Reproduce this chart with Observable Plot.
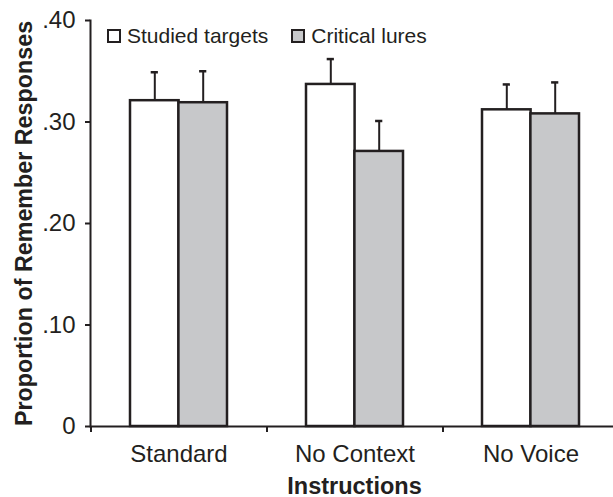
<!DOCTYPE html>
<html>
<head>
<meta charset="utf-8">
<script src="https://cdn.jsdelivr.net/npm/d3@7"></script>
<script src="https://cdn.jsdelivr.net/npm/@observablehq/plot@0.6"></script>
<style>
  body { margin: 0; background: #fff; overflow: hidden; }
  #wrap { position: relative; width: 613px; height: 497px; }
  #legend { position: absolute; left: 107px; top: 25px; display: flex; align-items: center;
            font-family: "Liberation Sans", Arial, sans-serif; font-size: 21px; line-height: 21px; color: #231f20; }
  #legend .item { display: flex; align-items: center; margin-right: 23px; }
  #legend .box { width: 14px; height: 14px; box-sizing: border-box; border: 2px solid #231f20; margin-right: 6px; }
</style>
</head>
<body>
<div id="wrap"><div id="legend"></div></div>
<script>
// ---- data ----
const categories = ["Standard", "No Context", "No Voice"];
const series = ["Studied targets", "Critical lures"];
const seriesColors = ["#ffffff", "#c7c8ca"];
const targetMeans = [0.321, 0.337, 0.312];
const targetErrors = [0.028, 0.025, 0.025];
const lureMeans = [0.319, 0.271, 0.308];
const lureErrors = [0.031, 0.030, 0.031];
const yTicks = [0, 0.1, 0.2, 0.3, 0.4];
const yTickLabels = ["0", ".10", ".20", ".30", ".40"];
const xTitle = "Instructions";
const yTitle = "Proportion of Remember Responses";

const rows = categories.flatMap((c, i) => [
  {category: c, series: series[0], mean: targetMeans[i], se: targetErrors[i]},
  {category: c, series: series[1], mean: lureMeans[i], se: lureErrors[i]}
]);
const targets = rows.filter(d => d.series === series[0]);
const lures = rows.filter(d => d.series === series[1]);

// ---- layout ----
const W = 613, H = 497, mL = 90, mR = -5, mT = 20, mB = 71;
const padInner = 0.45, padOuter = 0.225;
const step = (W - mR - mL) / categories.length;
const bw = step * (1 - padInner);
const half = bw / 2;
const capW = 7;
const ink = "#231f20";

const chart = Plot.plot({
  width: W, height: H,
  marginLeft: mL, marginRight: mR, marginTop: mT, marginBottom: mB,
  style: {fontFamily: "'Liberation Sans', Arial, sans-serif", fontSize: "24px", color: ink, background: "transparent", overflow: "visible"},
  x: {type: "band", domain: categories, paddingInner: padInner, paddingOuter: padOuter},
  y: {domain: [0, 0.4]},
  color: {domain: series, range: seriesColors},
  marks: [
    Plot.barY(targets, {x: "category", y: "mean", fill: "series", stroke: ink, strokeWidth: 2.5, insetRight: half}),
    Plot.barY(lures, {x: "category", y: "mean", fill: "series", stroke: ink, strokeWidth: 2.5, insetLeft: half}),
    Plot.ruleX(targets, {x: "category", y1: "mean", y2: d => d.mean + d.se, dx: -half / 2, stroke: ink, strokeWidth: 2}),
    Plot.ruleX(lures, {x: "category", y1: "mean", y2: d => d.mean + d.se, dx: half / 2, stroke: ink, strokeWidth: 2}),
    Plot.tickY(targets, {x: "category", y: d => d.mean + d.se, insetLeft: half / 2 - capW / 2, insetRight: bw - half / 2 - capW / 2, stroke: ink, strokeWidth: 2.5}),
    Plot.tickY(lures, {x: "category", y: d => d.mean + d.se, insetLeft: bw - half / 2 - capW / 2, insetRight: half / 2 - capW / 2, stroke: ink, strokeWidth: 2.5}),
    Plot.ruleY([0], {stroke: ink, strokeWidth: 2}),
    Plot.ruleX(categories, {x: d => d, y1: 0, y2: 0, dx: -step / 2, insetBottom: -6, stroke: ink, strokeWidth: 2}),
    Plot.frame({anchor: "left", stroke: ink, strokeWidth: 2}),
    Plot.axisY({ticks: yTicks, tickFormat: d => yTickLabels[yTicks.indexOf(d)], tickSize: 5, tickPadding: 10, fontSize: 24, strokeWidth: 2, label: null}),
    Plot.axisX({tickSize: 0, tickPadding: 18, fontSize: 24, label: null}),
    Plot.text([xTitle], {text: d => d, frameAnchor: "bottom", dy: 67, fontSize: 23.5, fontWeight: "bold", fill: ink}),
    Plot.text([yTitle], {text: d => d, frameAnchor: "left", textAnchor: "middle", rotate: -90, dx: -66, fontSize: 23.3, fontWeight: "bold", fill: ink})
  ]
});
document.getElementById("wrap").prepend(chart);

// legend built from the plot's color scale
const colorScale = chart.scale("color");
const legend = document.getElementById("legend");
colorScale.domain.forEach((s, i) => {
  const item = document.createElement("span");
  item.className = "item";
  const box = document.createElement("span");
  box.className = "box";
  box.style.background = colorScale.range[i];
  item.appendChild(box);
  item.appendChild(document.createTextNode(s));
  legend.appendChild(item);
});
</script>
</body>
</html>
